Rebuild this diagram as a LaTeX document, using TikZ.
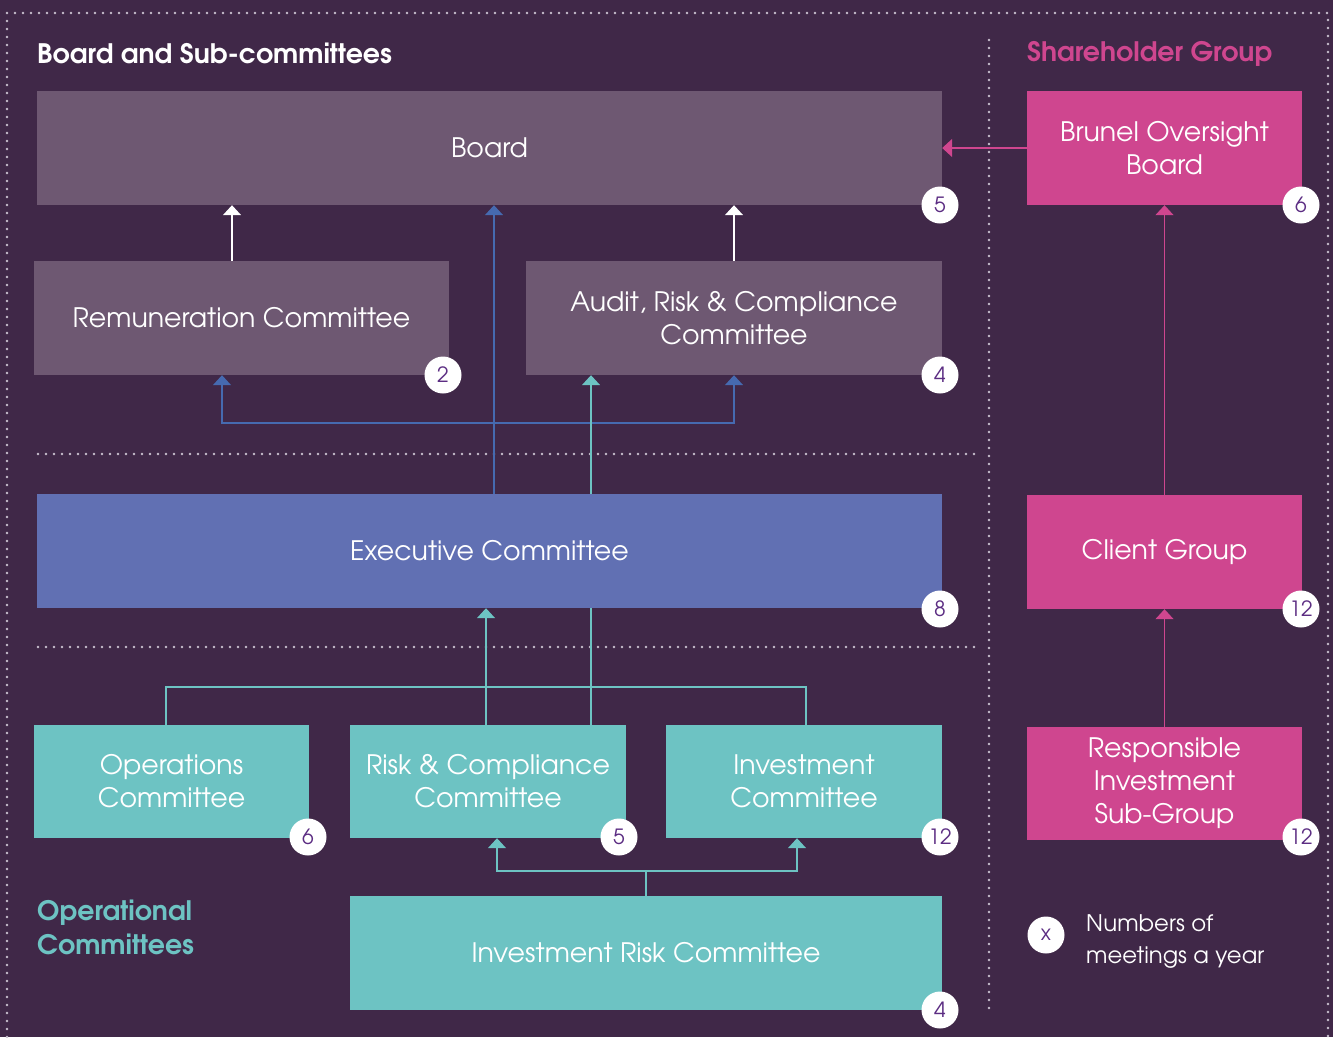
\documentclass[tikz,border=0pt]{standalone}
\usepackage{fontspec}
\setmainfont{TeX Gyre Adventor}
\usetikzlibrary{arrows.meta}
\definecolor{bgpurple}{RGB}{64,40,72}
\definecolor{boardgrey}{RGB}{110,88,114}
\definecolor{execblue}{RGB}{97,112,179}
\definecolor{linkblue}{RGB}{70,106,176}
\definecolor{opteal}{RGB}{109,195,195}
\definecolor{shpink}{RGB}{207,70,143}
\definecolor{numpurple}{RGB}{92,45,131}
\definecolor{dotgrey}{RGB}{200,192,206}

\begin{document}
\begin{tikzpicture}[x=1pt, y=-1pt,
    box/.style={shape=rectangle, inner sep=0pt, minimum height=114pt, text=white, align=center, font=\fontsize{26.8}{33}\selectfont},
    boardbox/.style={box, fill=boardgrey},
    execbox/.style={box, fill=execblue},
    opbox/.style={box, fill=opteal},
    shbox/.style={box, fill=shpink},
    badge/.style={shape=circle, fill=white, inner sep=0pt, minimum size=37pt, text=numpurple, font=\fontsize{21}{21}\selectfont},
    dots/.style={draw=dotgrey, line width=2.6pt, line cap=round, dash pattern=on 0pt off 8pt},
    link/.style={line width=1.5pt, -{Triangle[width=18pt,length=10pt]}},
    wlink/.style={link, draw=white},
    blink/.style={link, draw=linkblue},
    tlink/.style={link, draw=opteal},
    plink/.style={link, draw=shpink},
    tline/.style={line width=1.5pt, draw=opteal},
    bline/.style={line width=1.5pt, draw=linkblue}]
				% Background and dotted frames:
				\fill[bgpurple] (0,0) rectangle (1333,1037);
				\useasboundingbox (0,0) rectangle (1333,1037);
				\draw[dots] (7,1045) -- (7,13) -- (1328,13) -- (1328,1045);
				\draw[dots] (989,40) -- (989,1008);
				\draw[dots] (38,454) -- (975,454);
				\draw[dots] (38,647) -- (975,647);
				% Headings:
				\node[anchor=west, inner sep=0pt, text=white, font=\fontsize{26.8}{26.8}\selectfont\bfseries] (Hboard) at (37,53.5) {Board and Sub-committees};
				\node[anchor=west, inner sep=0pt, text=shpink, font=\fontsize{26.8}{26.8}\selectfont\bfseries] (Hshare) at (1027,53.5) {Shareholder Group};
				\node[anchor=west, inner sep=0pt, align=left, text=opteal, font=\fontsize{26.8}{34}\selectfont\bfseries] (Hops) at (37,927) {Operational\\Committees};
				% Boxes:
				\node[boardbox, minimum width=905pt] (Board) at (489.5,148) {Board};
				\node[shbox, minimum width=275pt] (Brunel) at (1164.5,148) {Brunel Oversight\\Board};
				\node[boardbox, minimum width=415pt] (Remun) at (241.5,318) {Remuneration Committee};
				\node[boardbox, minimum width=416pt] (Audit) at (734,318) {Audit, Risk \& Compliance\\Committee};
				\node[execbox, minimum width=905pt] (Exec) at (489.5,551) {Executive Committee};
				\node[shbox, minimum width=275pt] (Client) at (1164.5,552) {Client Group};
				\node[opbox, minimum width=275pt, minimum height=113pt] (Ops) at (171.5,781.5) {Operations\\Committee};
				\node[opbox, minimum width=276pt, minimum height=113pt] (RiskC) at (488,781.5) {Risk \& Compliance\\Committee};
				\node[opbox, minimum width=276pt, minimum height=113pt] (InvC) at (804,781.5) {Investment\\Committee};
				\node[shbox, minimum width=275pt, minimum height=113pt] (RISG) at (1164.5,783.5) {Responsible\\Investment\\Sub-Group};
				\node[opbox, minimum width=592pt] (IRC) at (646,953) {Investment Risk Committee};
				% Meeting counts:
				\node[badge] (nBoard) at (940,205) {5};
				\node[badge] (nBrunel) at (1301,205) {6};
				\node[badge] (nRemun) at (443,375) {2};
				\node[badge] (nAudit) at (940,375) {4};
				\node[badge] (nExec) at (940,609) {8};
				\node[badge] (nClient) at (1301,609) {12};
				\node[badge] (nOps) at (308,837) {6};
				\node[badge] (nRiskC) at (619,837) {5};
				\node[badge] (nInvC) at (940,837) {12};
				\node[badge] (nRISG) at (1301,837) {12};
				\node[badge] (nIRC) at (940,1010) {4};
				% Legend:
				\node[badge] (Lx) at (1046,935) {x};
				\node[anchor=west, inner sep=0pt, align=left, text=white, font=\fontsize{22.8}{32}\selectfont] (Ltext) at (1086,942) {Numbers of\\meetings a year};
				% Connectors, board level:
				\draw[wlink] ([xshift=-9.5pt]Remun.north) -- ([xshift=-9.5pt]Remun.north |- Board.south);
				\draw[wlink] (Audit.north) -- (Audit.north |- Board.south);
				\draw[blink] ([xshift=4.5pt]Exec.north) -- ([xshift=4.5pt]Exec.north |- Board.south);
				\coordinate (bj) at ([xshift=4.5pt]Exec.north |- 0,423);
				\draw[blink] (bj) -| ([xshift=-19.5pt]Remun.south);
				\draw[blink] (bj) -| (Audit.south);
				\draw[tlink] ([xshift=101.5pt]Exec.north) -- ([xshift=101.5pt]Exec.north |- Audit.south);
				% Connectors, operational level:
				\coordinate (tj) at ([xshift=103pt]RiskC.north |- 0,687);
				\draw[tline] ([xshift=-5.5pt]Ops.north) |- (tj) -| ([xshift=2pt]InvC.north);
				\draw[tline] ([xshift=103pt]RiskC.north) -- ([xshift=103pt]RiskC.north |- Exec.south);
				\draw[tlink] ([xshift=-2pt]RiskC.north) -- ([xshift=-2pt]RiskC.north |- Exec.south);
				\coordinate (ij) at (IRC.north |- 0,871);
				\draw[tline] (IRC.north) -- (ij);
				\draw[tlink] (ij) -| ([xshift=9pt]RiskC.south);
				\draw[tlink] (ij) -| ([xshift=-7pt]InvC.south);
				% Connectors, shareholder group:
				\draw[plink] (Brunel.west) -- (Board.east);
				\draw[plink] (Client.north) -- (Brunel.south);
				\draw[plink] (RISG.north) -- (Client.south);
			\end{tikzpicture}
\end{document}
